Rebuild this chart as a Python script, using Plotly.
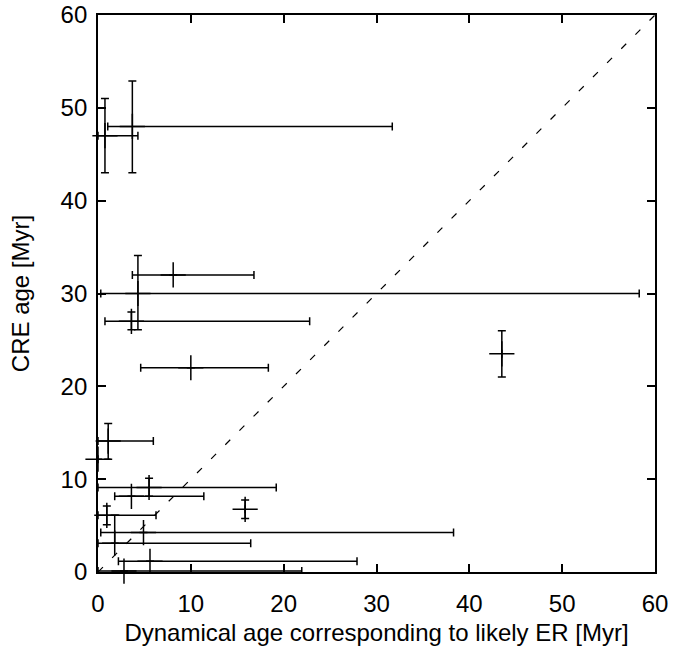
import plotly.graph_objects as go

# Data (Myr)
x_dyn = [3.7, 0.75, 8.1, 4.3, 3.6, 10.0, 1.1, 0.0, 5.5, 3.6, 43.5, 15.85, 0.95, 1.8, 4.9, 5.6, 2.8]
x_lo  = [1.05, 0.0, 3.7, 0.3, 0.75, 4.6, 0.0, 0.0, 0.0, 1.8, 43.5, 15.85, 0.0, 0.0, 0.3, 2.2, 0.0]
x_hi  = [31.7, 4.3, 16.8, 58.3, 22.8, 18.35, 5.96, 0.0, 19.2, 11.4, 43.5, 15.85, 6.25, 16.45, 38.3, 27.9, 21.95]
y_cre = [48.0, 47.0, 32.0, 30.0, 27.0, 22.0, 14.1, 12.15, 9.1, 8.15, 23.5, 6.75, 6.1, 3.1, 4.25, 1.15, 0.1]
y_lo  = [43.0, 43.0, 32.0, 26.1, 26.1, 22.0, 12.15, 12.15, 8.15, 8.15, 21.0, 5.75, 5.1, 3.1, 4.25, 1.15, 0.1]
y_hi  = [52.9, 51.0, 32.0, 34.1, 28.0, 22.0, 16.0, 12.15, 10.1, 8.15, 26.0, 7.75, 7.1, 6.1, 4.25, 1.15, 0.1]

diag = [0, 60]
tick_vals = [0, 10, 20, 30, 40, 50, 60]

ex_plus = [h - v for h, v in zip(x_hi, x_dyn)]
ex_minus = [v - l for v, l in zip(x_dyn, x_lo)]
ey_plus = [h - v for h, v in zip(y_hi, y_cre)]
ey_minus = [v - l for v, l in zip(y_cre, y_lo)]

FONT = "Liberation Sans, Arial, Helvetica, sans-serif"

fig = go.Figure()
fig.add_trace(go.Scatter(
    x=diag, y=diag, mode="lines",
    line=dict(color="black", width=1.2, dash="7px,13px"),
    showlegend=False, hoverinfo="skip"))
fig.add_trace(go.Scatter(
    x=x_dyn, y=y_cre, mode="markers",
    marker=dict(symbol="cross-thin", size=18, color="black",
                line=dict(color="black", width=1.5)),
    error_x=dict(type="data", symmetric=False, array=ex_plus, arrayminus=ex_minus,
                 color="black", thickness=1.5, width=4),
    error_y=dict(type="data", symmetric=False, array=ey_plus, arrayminus=ey_minus,
                 color="black", thickness=1.5, width=4),
    cliponaxis=False, showlegend=False))

axis_common = dict(
    range=[0, 60], tickvals=tick_vals, ticks="inside", ticklen=8,
    tickwidth=1.5, tickcolor="black", showline=True, linecolor="black",
    linewidth=1.8, mirror="ticks", showgrid=False, zeroline=False,
    ticklabeloverflow="allow",
    tickfont=dict(family=FONT, size=24, color="black"),
)
fig.update_xaxes(**axis_common, ticklabelstandoff=9,
                 title=dict(text="Dynamical age corresponding to likely ER [Myr]",
                            font=dict(family=FONT, size=24, color="black"),
                            standoff=8))
fig.update_yaxes(**axis_common, ticklabelstandoff=4,
                 title=dict(text="CRE age [Myr]",
                            font=dict(family=FONT, size=24, color="black"),
                            standoff=24))
fig.update_layout(
    width=692, height=648,
    margin=dict(l=98, r=37, t=15, b=76, autoexpand=False),
    plot_bgcolor="white", paper_bgcolor="white",
)
fig.write_html("out.html", config={"displayModeBar": False},
               post_script="document.body.style.margin='0px';")
